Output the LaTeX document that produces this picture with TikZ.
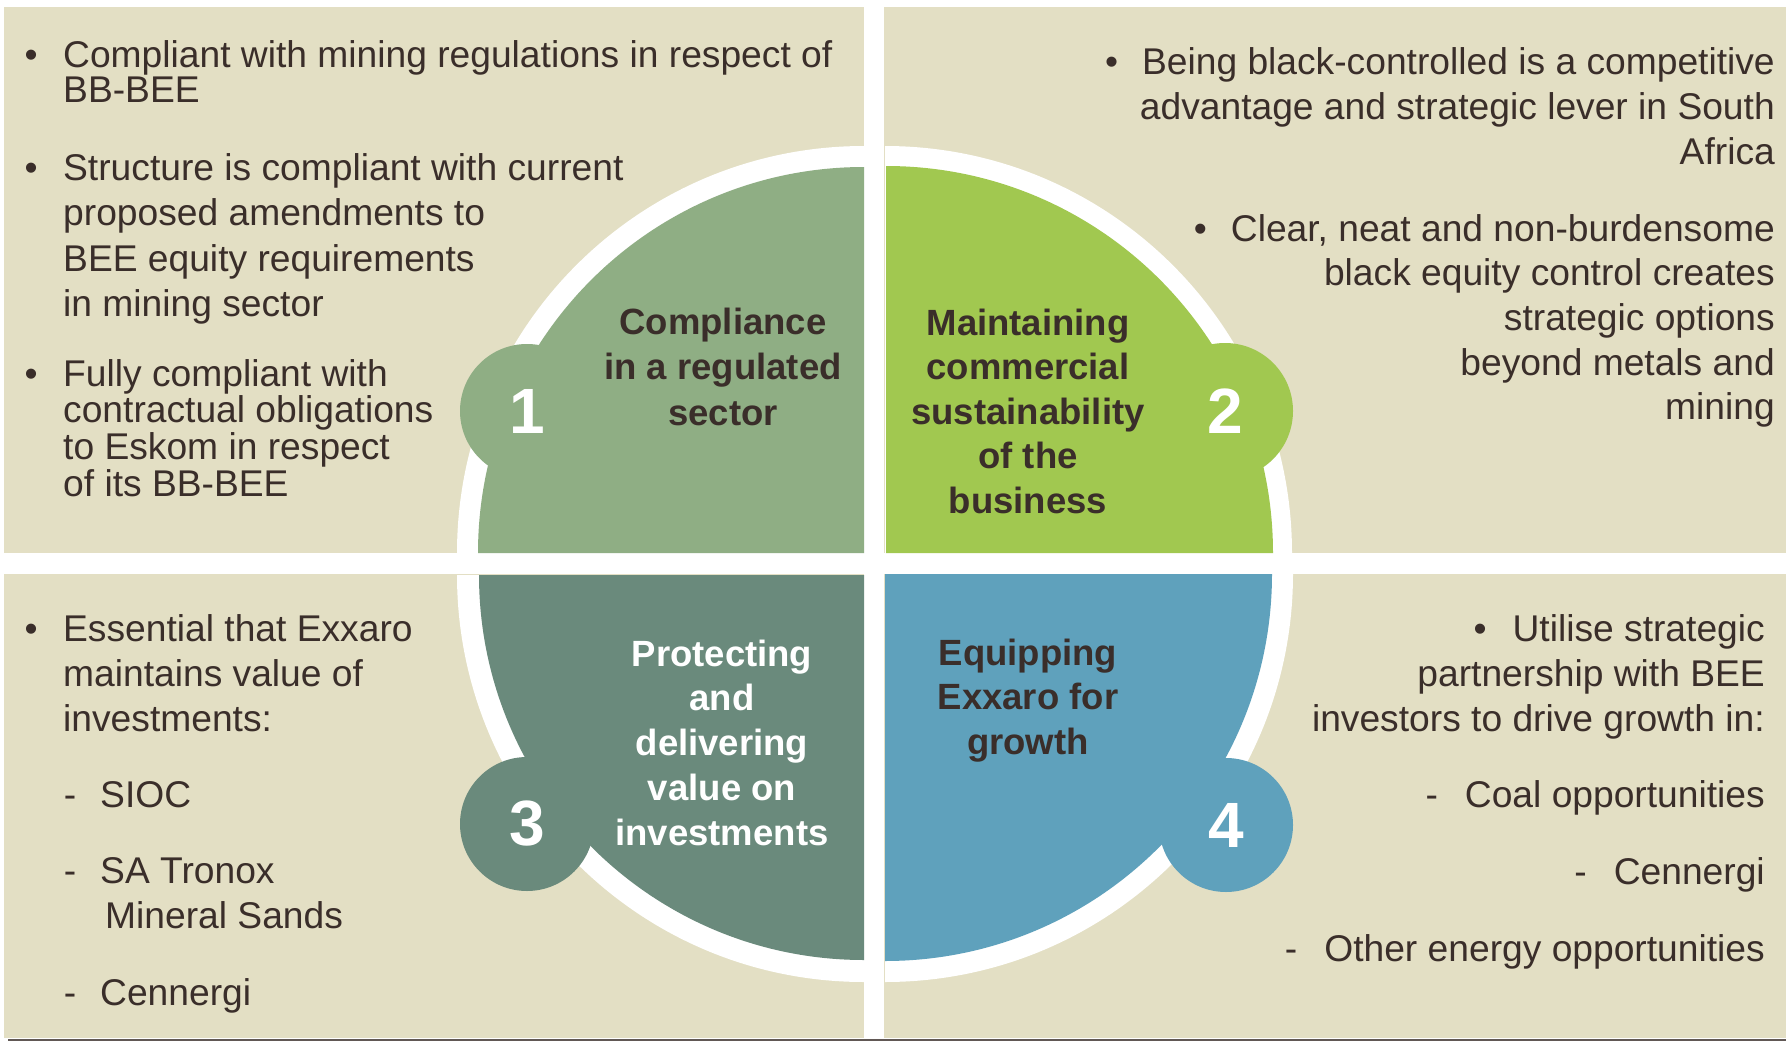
\documentclass[tikz,border=0pt]{standalone}
\usepackage{fontspec}
\setmainfont{Liberation Sans}
\definecolor{panel}{RGB}{227,223,196}
\definecolor{qone}{RGB}{143,174,132}
\definecolor{qtwo}{RGB}{161,200,80}
\definecolor{qthree}{RGB}{106,138,124}
\definecolor{qfour}{RGB}{95,161,188}
\definecolor{ink}{RGB}{58,46,42}
\newcommand{\blt}[1]{\llap{\textbullet\hspace{#1}}}
\newcommand{\dsh}[1]{\llap{-\hspace{#1}}}
\begin{document}
% multi-line nodes are placed by the baseline of their last line
\begin{tikzpicture}[x=1pt,y=1pt,yscale=-1,
  body/.style={font=\fontsize{37.2}{45}\selectfont, text=ink, inner sep=0pt},
  lbl/.style={font=\fontsize{36.5}{44.5}\selectfont\bfseries, text=ink, align=center, inner sep=0pt, anchor=base},
  num/.style={circle, inner sep=0pt, text=white, font=\fontsize{64}{64}\selectfont\bfseries}]
\useasboundingbox (0,0) rectangle (1786,1041);
\fill[white] (0,0) rectangle (1786,1041);
% four background panels
\fill[panel] (4,7) rectangle (864,553);
\fill[panel] (884,7) rectangle (1786,553);
\fill[panel] (4,574) rectangle (864,1038);
\fill[panel] (884,574) rectangle (1786,1038);
\draw[ink!80, line width=2pt] (8,1040) -- (1786,1040);
% white rim behind each quarter
\fill[white] (864,553) -- ++(-407,0) arc[start angle=180,end angle=270,radius=407pt] -- cycle;
\fill[white] (885,553) -- ++(0,-407) arc[start angle=270,end angle=360,radius=407pt] -- cycle;
\fill[white] (864,575) -- ++(0,407) arc[start angle=90,end angle=180,radius=407pt] -- cycle;
\fill[white] (885,574) -- ++(408,0) arc[start angle=0,end angle=90,radius=408pt] -- cycle;
% coloured quarters
\fill[qone] (864,553) -- ++(-386,0) arc[start angle=180,end angle=270,radius=386pt] -- cycle;
\fill[qtwo] (886,553) -- ++(0,-387) arc[start angle=270,end angle=360,radius=387pt] -- cycle;
\fill[qthree] (864,575) -- ++(0,385) arc[start angle=90,end angle=180,radius=385pt] -- cycle;
\fill[qfour] (885,574) -- ++(387,0) arc[start angle=0,end angle=90,radius=387pt] -- cycle;
% numbered discs
\node[num, fill=qone, minimum size=134pt] (c1) at (527,411) {1};
\node[num, fill=qtwo, minimum size=136pt] (c2) at (1225,411) {2};
\node[num, fill=qthree, minimum size=134pt] (c3) at (527,824) {3};
\node[num, fill=qfour, minimum size=134pt] (c4) at (1226,825) {4};
% quarter titles
\node[lbl, font=\fontsize{36.5}{45.5}\selectfont\bfseries] (t1) at (723,425) {Compliance\\in a regulated\\sector};
\node[lbl] (t2) at (1028,513) {Maintaining\\commercial\\sustainability\\of the\\business};
\node[lbl, text=white, font=\fontsize{36.5}{44.7}\selectfont\bfseries] (t3) at (722,845) {Protecting\\and\\delivering\\value on\\investments};
\node[lbl] (t4) at (1028,754) {Equipping\\Exxaro for\\growth};
% top left
\node[body, anchor=base west, align=left, font=\fontsize{37.2}{35.5}\selectfont] (tl1) at (63,102.5)
  {\blt{25.5pt}Compliant with mining regulations in respect of\\BB-BEE};
\node[body, anchor=base west, align=left, font=\fontsize{37.2}{45.3}\selectfont] (tl2) at (63,316.4)
  {\blt{25.5pt}Structure is compliant with current\\proposed amendments to\\BEE equity requirements\\in mining sector};
\node[body, anchor=base west, align=left, font=\fontsize{37.2}{36.8}\selectfont] (tl3) at (63,496.4)
  {\blt{25.5pt}Fully compliant with\\contractual obligations\\to Eskom in respect\\of its BB-BEE};
% top right
\node[body, anchor=base east, align=right] (tr1) at (1775,164)
  {\textbullet\hspace{24pt}Being black-controlled is a competitive\\advantage and strategic lever in South\\Africa};
\node[body, anchor=base east, align=right, font=\fontsize{37.2}{44.7}\selectfont] (tr2) at (1775,419.8)
  {\textbullet\hspace{24pt}Clear, neat and non-burdensome\\black equity control creates\\strategic options\\beyond metals and\\mining};
% bottom left
\node[body, anchor=base west, align=left] (bl1) at (63,731)
  {\blt{25.5pt}Essential that Exxaro\\maintains value of\\investments:};
\node[body, anchor=base west] (bl2) at (100,807) {\dsh{24pt}SIOC};
\node[body, anchor=base west] (bl3) at (100,883) {\dsh{24pt}SA Tronox};
\node[body, anchor=base west] (bl4) at (105,928) {Mineral Sands};
\node[body, anchor=base west] (bl5) at (100,1005) {\dsh{24pt}Cennergi};
% bottom right
\node[body, anchor=base east, align=right] (br1) at (1765,731)
  {\textbullet\hspace{26pt}Utilise strategic\\partnership with BEE\\investors to drive growth in:};
\node[body, anchor=base east] (br2) at (1765,807.5) {-\hspace{27pt}Coal opportunities};
\node[body, anchor=base east] (br3) at (1765,884.5) {-\hspace{27pt}Cennergi};
\node[body, anchor=base east] (br4) at (1765,961.5) {-\hspace{27pt}Other energy opportunities};
\end{tikzpicture}
\end{document}
